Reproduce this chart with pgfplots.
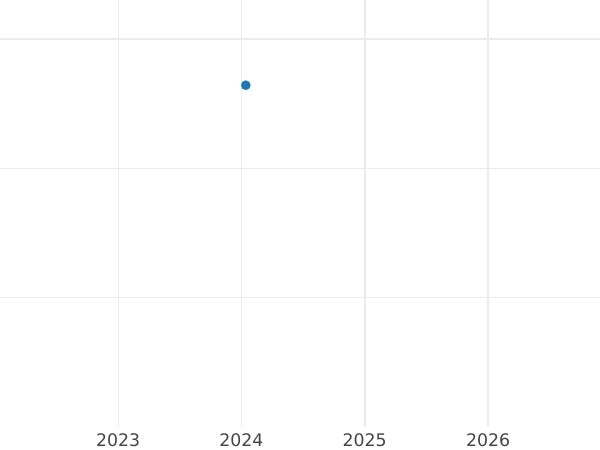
\documentclass[border=0pt]{standalone}
\usepackage{pgfplots}
\pgfplotsset{compat=1.18}
\usepackage{fontspec}
\setmainfont{DejaVu Sans}
\definecolor{gridc}{HTML}{EBEBEB}
\definecolor{labc}{HTML}{444444}
\definecolor{ptc}{HTML}{1F77B4}
\begin{document}
\begin{tikzpicture}
\begin{axis}[
  scale only axis,
  width=600pt, height=427pt,
  xmin=2022.043, xmax=2026.908,
  ymin=0, ymax=3.302,
  axis line style={draw=none},
  tick style={draw=none},
  /pgf/number format/assume math mode=true,
  xtick={2023,2024},
  extra x ticks={2025,2026},
  extra x tick style={grid style={gridc, line width=1.8pt}},
  xticklabel style={font=\fontsize{17.3}{20}\selectfont, text=labc, anchor=base, yshift=-19pt, inner sep=0pt, /pgf/number format/1000 sep={}},
  extra x tick labels={2025,2026},
  xticklabels={2023,2024},
  ytick={2},
  extra y ticks={1,3},
  extra y tick style={grid style={gridc, line width=1.6pt}},
  yticklabels={},
  extra y tick labels={},
  xmajorgrids, ymajorgrids,
  grid style={gridc, line width=1pt},
  clip=false,
]
\addplot[only marks, mark=*, mark size=4.6pt, color=ptc] coordinates {(2024.036,2.643)};
\end{axis}
\pgfresetboundingbox
\path (0,-23pt) rectangle (600pt,427pt);
\end{tikzpicture}
\end{document}
